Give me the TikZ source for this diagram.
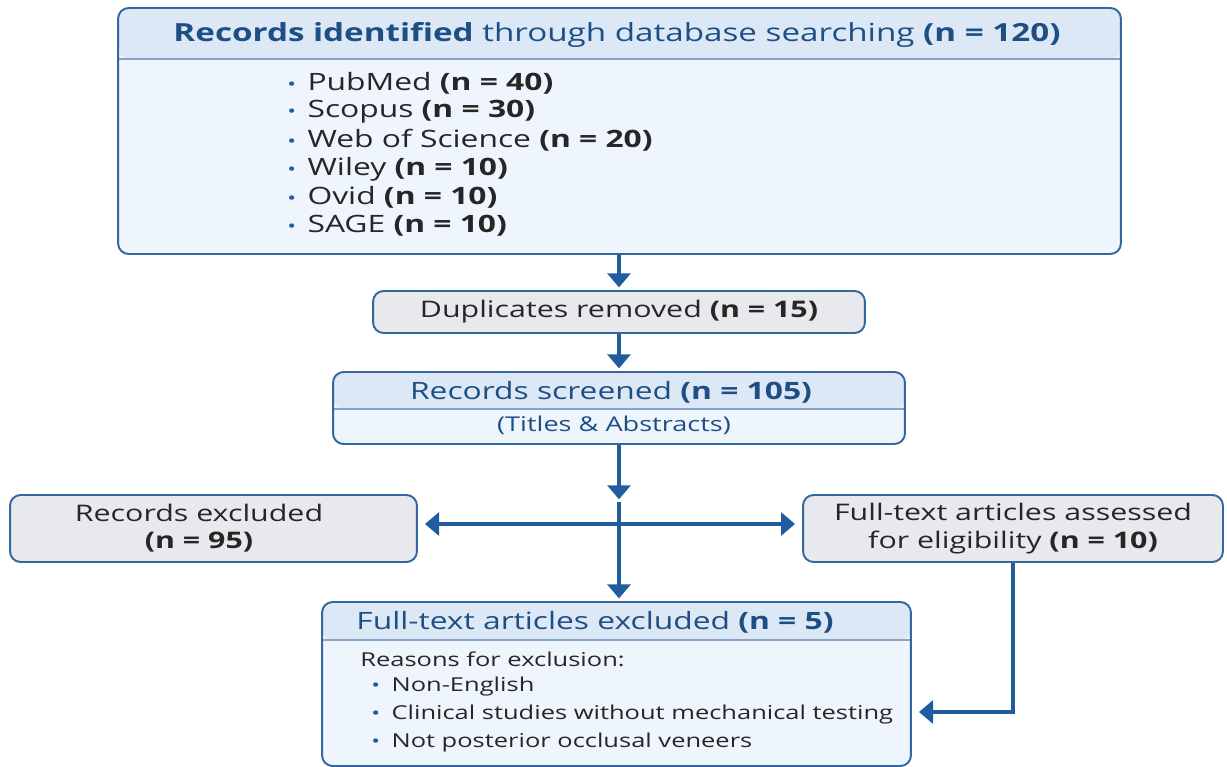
\documentclass[tikz,border=0pt]{standalone}
\usepackage{fontspec}
\setmainfont{Open Sans}[FakeStretch=1.33]
\usepackage{xcolor}
\usepackage{tikz}
\usetikzlibrary{arrows.meta}

\definecolor{bordblue}{HTML}{3467A0}
\definecolor{headblue}{HTML}{DCE8F5}
\definecolor{bodyblue}{HTML}{EFF5FC}
\definecolor{boxgray}{HTML}{E8E9EC}
\definecolor{flowblue}{HTML}{1F5D9E}
\definecolor{titleblue}{HTML}{1E4F84}
\definecolor{txtgray}{HTML}{262626}

\newcommand{\blt}{\makebox[11.5pt][l]{\textcolor{flowblue}{\normalsize\textbullet}}}

\tikzset{
  hdrbox/.style={rounded corners=6pt, draw=bordblue, line width=1.1pt, fill=bodyblue,
    path picture={
      \fill[headblue] (path picture bounding box.north west) rectangle ([yshift=-#1]path picture bounding box.north east);
      \draw[bordblue!60, line width=0.8pt] ([yshift=-#1]path picture bounding box.north west) -- ([yshift=-#1]path picture bounding box.north east);
    }},
  graybox/.style={rounded corners=6pt, draw=bordblue, line width=1.1pt, fill=boxgray,
    align=center, text=txtgray, font=\fontsize{13}{15.5}\selectfont},
  flow/.style={draw=flowblue, line width=2pt, shorten >=1.5pt,
    -{Triangle[width=13pt,length=8pt]}},
  body/.style={text=txtgray, font=\fontsize{13.6}{15}\selectfont, inner sep=0pt},
  small/.style={text=txtgray, font=\fontsize{10.9}{14}\selectfont, inner sep=0pt},
  title/.style={text=titleblue, font=\fontsize{13.6}{15}\selectfont, inner sep=0pt}
}

\begin{document}
\begin{tikzpicture}[x=0.02cm, y=-0.02cm]

\useasboundingbox (0,0) rectangle (1227,767);

%%    NODES   %%
\node[hdrbox=1.02cm, minimum width=20.06cm, minimum height=4.92cm] (idbox) at (619.5,131) {};
\node[title, font=\fontsize{14.2}{16}\selectfont] (idhead) at (617,35) {\textbf{Records identified} through database searching \textbf{(n = 120)}};
\foreach \db/\num [count=\i] in {PubMed/40, Scopus/30, Web of Science/20, Wiley/10, Ovid/10, SAGE/10}
  \node[body, anchor=west] (db\i) at (287, 54.5+28.6*\i) {\blt\db\ \textbf{(n = \num)}};

\node[graybox, minimum width=9.84cm, minimum height=0.84cm] (dupbox) at (619,312) {Duplicates removed \textbf{(n = 15)}};

\node[hdrbox=0.74cm, minimum width=11.44cm, minimum height=1.44cm] (scrbox) at (619,408) {};
\node[title] (scrhead) at (611,392) {Records screened \textbf{(n = 105)}};
\node[title, font=\fontsize{11.6}{12}\selectfont] (scrsub) at (614,425) {(Titles \& Abstracts)};

\node[graybox, minimum width=8.14cm, minimum height=1.34cm] (recexcl) at (213.5,528.5) {};
\node[graybox, fill=none, draw=none] (recexcltxt) at (199,528.5) {Records excluded\\\textbf{(n = 95)}};
\node[graybox, minimum width=8.4cm, minimum height=1.34cm] (assess) at (1013,528.5) {Full-text articles assessed\\for eligibility \textbf{(n = 10)}};

\node[hdrbox=0.76cm, minimum width=11.78cm, minimum height=3.28cm] (ftexcl) at (616.5,684) {};
\node[title, anchor=west] (fthead) at (356,622) {Full-text articles excluded \textbf{(n = 5)}};
\node[small, anchor=west] (reasons) at (360,659) {Reasons for exclusion:};
\foreach \why [count=\i] in {Non-English, Clinical studies without mechanical testing, Not posterior occlusal veneers}
  \node[small, anchor=west] (why\i) at (371, 659+28*\i) {\blt\why};

\coordinate (midtip) at (619,502);
\coordinate (split) at (619,524);

%%    ARROWS    %%
\draw[flow] (idbox.south -| dupbox.north) -- (dupbox.north);
\draw[flow] (dupbox) -- (scrbox);
\draw[flow] (scrbox.south -| midtip) -- (midtip);
\draw[flow] (midtip) -- (midtip |- ftexcl.north);
\draw[flow, shorten >=4pt] (split) -- (split -| recexcl.east);
\draw[flow, shorten >=4pt] (split) -- (split -| assess.west);
\draw[flow, shorten >=4pt] (assess.south) |- ([yshift=-0.56cm]ftexcl.east);

\end{tikzpicture}
\end{document}
